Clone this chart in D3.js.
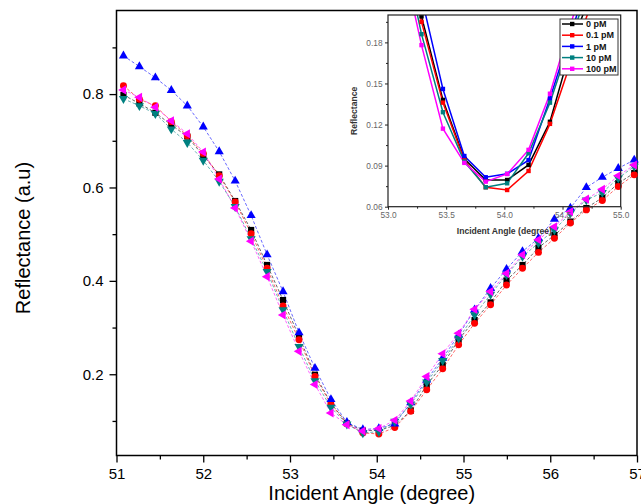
<!DOCTYPE html>
<html><head><meta charset="utf-8">
<script src="https://cdn.jsdelivr.net/npm/d3@7"></script>
<style>
html,body{margin:0;padding:0;background:#fff;}
svg{display:block;font-family:Arial,"Liberation Sans",sans-serif;}
</style></head>
<body>
<svg id="c" width="641" height="504"></svg>
<script>
// ---- data ----
const angles = [51.08,51.264,51.448,51.632,51.816,52.0,52.184,52.368,52.552,52.736,52.92,53.104,53.288,53.472,53.656,53.84,54.024,54.208,54.392,54.576,54.76,54.944,55.128,55.312,55.496,55.68,55.864,56.048,56.232,56.416,56.6,56.784,56.968];
const seriesNames = ["0 pM","0.1 pM","1 pM","10 pM","100 pM"];
const r0pM   = [0.798,0.780,0.760,0.734,0.709,0.668,0.628,0.571,0.509,0.434,0.359,0.281,0.199,0.138,0.095,0.0795,0.0795,0.0905,0.122,0.177,0.220,0.274,0.316,0.354,0.401,0.434,0.471,0.498,0.527,0.556,0.578,0.609,0.631];
const r01pM  = [0.818,0.789,0.775,0.741,0.711,0.673,0.625,0.569,0.501,0.427,0.346,0.274,0.195,0.136,0.094,0.0742,0.0722,0.0861,0.1205,0.1666,0.2116,0.263,0.309,0.349,0.391,0.427,0.461,0.491,0.524,0.552,0.572,0.602,0.627];
const r1pM   = [0.882,0.859,0.835,0.808,0.775,0.730,0.677,0.614,0.540,0.456,0.377,0.289,0.213,0.146,0.097,0.0815,0.084,0.094,0.139,0.188,0.2345,0.284,0.338,0.384,0.425,0.463,0.491,0.532,0.556,0.600,0.622,0.641,0.659];
const r10pM  = [0.790,0.775,0.758,0.725,0.696,0.658,0.613,0.559,0.490,0.420,0.338,0.259,0.186,0.129,0.093,0.0742,0.0771,0.099,0.136,0.183,0.229,0.277,0.327,0.371,0.413,0.452,0.481,0.509,0.545,0.573,0.589,0.620,0.645];
const r100pM = [0.809,0.793,0.772,0.743,0.715,0.676,0.618,0.556,0.485,0.409,0.327,0.249,0.178,0.117,0.092,0.0783,0.0839,0.1015,0.1425,0.195,0.244,0.288,0.339,0.377,0.416,0.456,0.488,0.516,0.548,0.575,0.596,0.625,0.648];
const xTicks = [51,52,53,54,55,56,57];
const yTicks = [0.2,0.4,0.6,0.8];
const insetXTicks = [53.0,53.5,54.0,54.5,55.0];
const insetYTicks = [0.06,0.09,0.12,0.15,0.18];

const colors = ["#000000","#ff0000","#0000ff","#008080","#ff00ff"];
const shapes = [d3.symbolSquare,d3.symbolCircle,d3.symbolTriangle,d3.symbolTriangle,d3.symbolTriangle];
const rotations = [0,0,0,180,-90];
const values = [r0pM,r01pM,r1pM,r10pM,r100pM];
const series = seriesNames.map((n,i)=>({name:n,color:colors[i],shape:shapes[i],rot:rotations[i],
  pts:angles.map((a,j)=>({x:a,y:values[i][j]}))}));

const svg = d3.select("#c");

// ---- main chart ----
const L=116.5,R=637,T=10.5,B=455.5;
const x = d3.scaleLinear().domain([51,57]).range([L,R]);
const y = d3.scaleLinear().domain([0.026,0.979]).range([B,T]);

// frame
svg.append("rect").attr("x",L).attr("y",T).attr("width",R-L).attr("height",B-T)
  .attr("fill","none").attr("stroke","#000").attr("stroke-width",1.5);

const fs=15;
const gx = svg.append("g").attr("transform",`translate(0,${B})`)
  .call(d3.axisBottom(x).tickValues(xTicks).tickSize(7).tickPadding(6).tickFormat(d3.format("d")));
const gxm = svg.append("g").attr("transform",`translate(0,${B})`)
  .call(d3.axisBottom(x).tickValues([51.5,52.5,53.5,54.5,55.5,56.5]).tickSize(4).tickFormat(""));
const gy = svg.append("g").attr("transform",`translate(${L},0)`)
  .call(d3.axisLeft(y).tickValues(yTicks).tickSize(7).tickPadding(6).tickFormat(d3.format(".1f")));
const gym = svg.append("g").attr("transform",`translate(${L},0)`)
  .call(d3.axisLeft(y).tickValues([0.1,0.3,0.5,0.7,0.9]).tickSize(4).tickFormat(""));
[gx,gxm,gy,gym].forEach(g=>{
  g.select(".domain").remove();
  g.selectAll("line").attr("stroke","#000").attr("stroke-width",1.3);
  g.selectAll("text").attr("font-size",fs).attr("fill","#000").attr("font-family","Arial, 'Liberation Sans', sans-serif");
});

svg.append("text").attr("x",(L+R)/2-5).attr("y",500).attr("text-anchor","middle")
  .attr("font-size",20).text("Incident Angle (degree)");
svg.append("text").attr("transform","translate(30,238) rotate(-90)").attr("text-anchor","middle")
  .attr("font-size",20).text("Reflectance (a.u)");

const line = d3.line().x(d=>x(d.x)).y(d=>y(d.y));
const gData = svg.append("g");
series.forEach(s=>{
  gData.append("path").attr("d",line(s.pts)).attr("fill","none")
    .attr("stroke",s.color).attr("stroke-width",0.8).attr("stroke-dasharray","3,2").attr("opacity",0.75);
});
series.forEach(s=>{
  const sym = d3.symbol().type(s.shape).size(s.shape===d3.symbolTriangle?36:38);
  gData.selectAll(null).data(s.pts).enter().append("path")
    .attr("d",sym).attr("fill",s.color)
    .attr("transform",d=>`translate(${x(d.x)},${y(d.y)}) rotate(${s.rot})`);
});

// ---- inset ----
const iL=388,iR=620.7,iT=15,iB=206.7;
const xi = d3.scaleLinear().domain([53,55]).range([iL,iR]);
const yi = d3.scaleLinear().domain([0.06,0.2]).range([iB,iT]);
svg.append("clipPath").attr("id","ic").append("rect").attr("x",iL).attr("y",iT).attr("width",iR-iL).attr("height",iB-iT);
const gi = svg.append("g");
const ifs=8.3;
const gix = gi.append("g").attr("transform",`translate(0,${iB})`)
  .call(d3.axisBottom(xi).tickValues(insetXTicks).tickSize(3).tickPadding(2).tickFormat(d3.format(".1f")));
const gixm = gi.append("g").attr("transform",`translate(0,${iB})`)
  .call(d3.axisBottom(xi).tickValues([53.25,53.75,54.25,54.75]).tickSize(2).tickFormat(""));
const giy = gi.append("g").attr("transform",`translate(${iL},0)`)
  .call(d3.axisLeft(yi).tickValues(insetYTicks).tickSize(3).tickPadding(2.5).tickFormat(d3.format(".2f")));
const giym = gi.append("g").attr("transform",`translate(${iL},0)`)
  .call(d3.axisLeft(yi).tickValues([0.075,0.105,0.135,0.165,0.195]).tickSize(2).tickFormat(""));
[gix,gixm,giy,giym].forEach(g=>{
  g.select(".domain").remove();
  g.selectAll("line").attr("stroke","#222").attr("stroke-width",1);
  g.selectAll("text").attr("font-size",ifs).attr("fill","#666").attr("font-family","Arial, 'Liberation Sans', sans-serif");
});
const lineI = d3.line().x(d=>xi(d.x)).y(d=>yi(d.y));
const gid = gi.append("g").attr("clip-path","url(#ic)");
series.forEach(s=>{
  gid.append("path").attr("d",lineI(s.pts)).attr("fill","none").attr("stroke",s.color).attr("stroke-width",1.5);
});
series.forEach(s=>{
  gid.selectAll(null).data(s.pts).enter().append("rect")
    .attr("x",d=>xi(d.x)-2.2).attr("y",d=>yi(d.y)-2.2).attr("width",4.4).attr("height",4.4).attr("fill",s.color);
});
gi.append("rect").attr("x",iL).attr("y",iT).attr("width",iR-iL).attr("height",iB-iT)
  .attr("fill","none").attr("stroke","#222").attr("stroke-width",1.2);
gi.append("text").attr("x",(iL+iR)/2).attr("y",234).attr("text-anchor","middle")
  .attr("font-size",8.6).attr("font-weight","bold").attr("fill","#333").text("Incident Angle (degree)");
gi.append("text").attr("transform",`translate(357,${(iT+iB)/2}) rotate(-90)`).attr("text-anchor","middle")
  .attr("font-size",8.6).attr("font-weight","bold").attr("fill","#333").text("Reflectance");

// legend
const lg = gi.append("g");
lg.append("rect").attr("x",560).attr("y",19).attr("width",58).attr("height",56)
  .attr("fill","#fff").attr("stroke","#333").attr("stroke-width",1);
series.forEach((s,i)=>{
  const yy = 24 + i*11.2;
  lg.append("line").attr("x1",562).attr("x2",583).attr("y1",yy).attr("y2",yy).attr("stroke",s.color).attr("stroke-width",1.5);
  lg.append("rect").attr("x",570).attr("y",yy-2.2).attr("width",4.4).attr("height",4.4).attr("fill",s.color);
  lg.append("text").attr("x",586).attr("y",yy+3.2).attr("font-size",9).attr("font-weight","bold").attr("fill","#111").text(s.name);
});
</script>
</body></html>
